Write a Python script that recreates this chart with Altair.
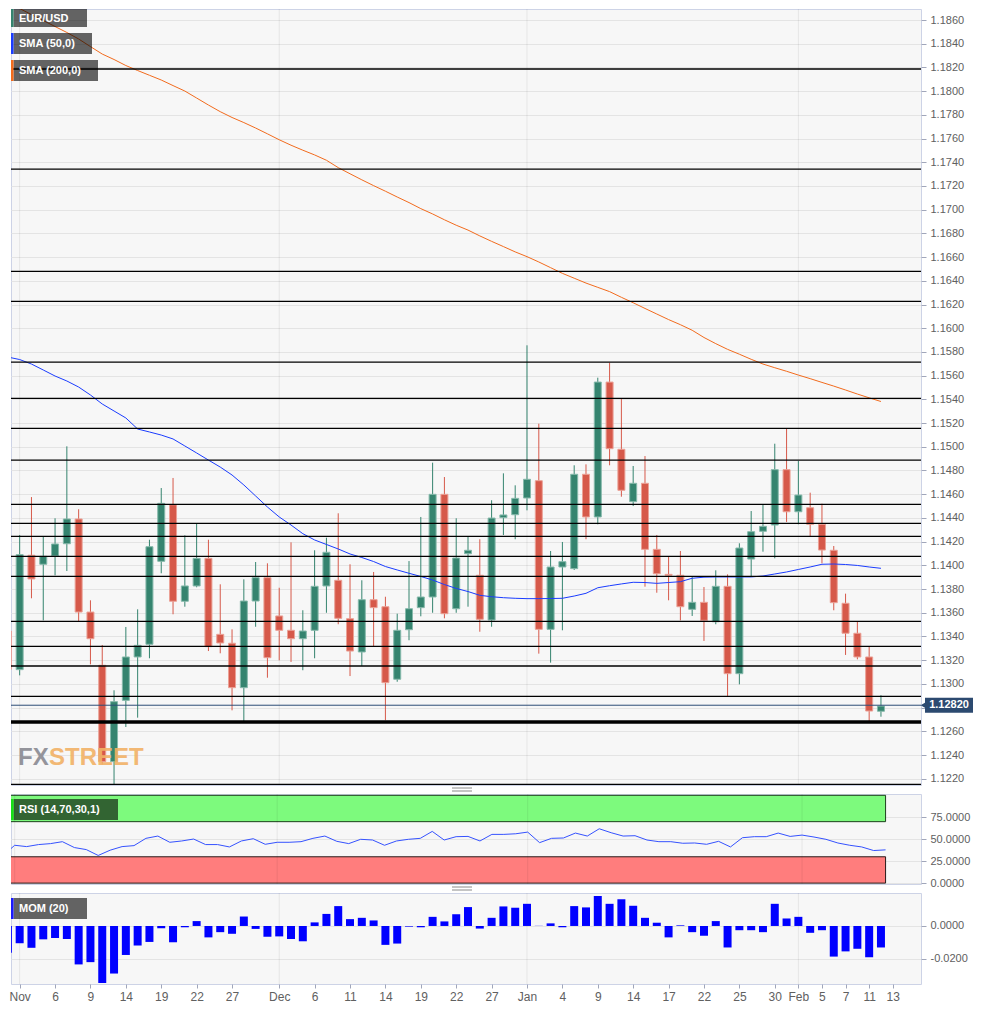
import altair as alt
import pandas as pd

# ---------------- data ----------------
bar_index = list(range(-1, 74))  # trading-day index, 0 = 1 Nov

open_ = [1.13446, 1.13120, 1.14085, 1.14009, 1.14079, 1.14182, 1.14391, 1.13606, 1.13157, 1.12344,
         1.12861, 1.13227, 1.13334, 1.14034, 1.14511, 1.13697, 1.13826, 1.14059, 1.13418, 1.13343,
         1.12968, 1.13699, 1.13896, 1.13573, 1.13452, 1.13381, 1.13452, 1.13826, 1.13874, 1.13550,
         1.13269, 1.13710, 1.13651, 1.13039, 1.13457, 1.13643, 1.13733, 1.14599, 1.13634, 1.14098,
         1.13916, 1.13539, 1.14402, 1.14427, 1.14568, 1.14714, 1.13460, 1.13986, 1.13972, 1.14768,
         1.14408, 1.15546, 1.14979, 1.14537, 1.14692, 1.14135, 1.13924, 1.13916, 1.13629, 1.13688,
         1.13524, 1.13823, 1.13086, 1.14053, 1.14287, 1.14340, 1.14807, 1.14452, 1.14486, 1.14346,
         1.14127, 1.13680, 1.13427, 1.13227, 1.12769]
high = [1.13632, 1.14256, 1.14576, 1.14242, 1.14397, 1.15004, 1.14473, 1.13705, 1.13328, 1.12946,
        1.13480, 1.13629, 1.14216, 1.14652, 1.14737, 1.14253, 1.14349, 1.14216, 1.13840, 1.13460,
        1.13882, 1.14028, 1.14017, 1.13811, 1.14194, 1.13621, 1.14127, 1.14233, 1.14439, 1.14009,
        1.13874, 1.13944, 1.13735, 1.13592, 1.14036, 1.14408, 1.14866, 1.14745, 1.14397, 1.14242,
        1.14220, 1.14549, 1.14776, 1.14675, 1.15856, 1.15195, 1.14121, 1.14197, 1.14844, 1.14852,
        1.15583, 1.15709, 1.15406, 1.14838, 1.14922, 1.14256, 1.14070, 1.14121, 1.13910, 1.13817,
        1.13958, 1.13924, 1.14186, 1.14458, 1.14515, 1.15026, 1.15152, 1.14880, 1.14613, 1.14520,
        1.14163, 1.13761, 1.13522, 1.13314, 1.12904]
low = [1.13024, 1.13072, 1.13722, 1.13536, 1.13916, 1.13952, 1.13522, 1.13165, 1.12320, 1.12153,
       1.12636, 1.12715, 1.13216, 1.13933, 1.13587, 1.13651, 1.13815, 1.13277, 1.13258, 1.12777,
       1.12687, 1.13482, 1.13052, 1.13199, 1.13185, 1.13115, 1.13216, 1.13600, 1.13503, 1.13066,
       1.13151, 1.13311, 1.12693, 1.13018, 1.13368, 1.13570, 1.13600, 1.13553, 1.13600, 1.13651,
       1.13440, 1.13482, 1.14256, 1.14220, 1.14464, 1.13255, 1.13179, 1.13452, 1.13961, 1.14220,
       1.14346, 1.14844, 1.14579, 1.14500, 1.13820, 1.13769, 1.13705, 1.13536, 1.13573, 1.13362,
       1.13503, 1.12898, 1.12996, 1.13910, 1.14115, 1.14059, 1.14366, 1.14346, 1.14247, 1.14017,
       1.13621, 1.13244, 1.13207, 1.12687, 1.12723]
close = [1.13123, 1.14090, 1.13885, 1.14076, 1.14180, 1.14391, 1.13606, 1.13381, 1.12344, 1.12850,
         1.13227, 1.13325, 1.14157, 1.14523, 1.13697, 1.13826, 1.14059, 1.13314, 1.13345, 1.12968,
         1.13699, 1.13896, 1.13221, 1.13452, 1.13381, 1.13446, 1.13823, 1.14110, 1.13553, 1.13277,
         1.13710, 1.13643, 1.13010, 1.13452, 1.13634, 1.13733, 1.14599, 1.13592, 1.14062, 1.14127,
         1.13545, 1.14399, 1.14425, 1.14565, 1.14726, 1.13460, 1.13986, 1.14031, 1.14768, 1.14408,
         1.15546, 1.14984, 1.14633, 1.14692, 1.14135, 1.13929, 1.13916, 1.13651, 1.13688, 1.13536,
         1.13823, 1.13086, 1.14146, 1.14284, 1.14329, 1.14807, 1.14452, 1.14593, 1.14346, 1.14129,
         1.13685, 1.13427, 1.13227, 1.12771, 1.12813]
sma50 = [1.15757, 1.15736, 1.15698, 1.15648, 1.15597, 1.15555, 1.15504, 1.15437, 1.15361, 1.15302,
         1.15243, 1.15150, 1.15125, 1.15099, 1.15066, 1.15007, 1.14948, 1.14888, 1.14829, 1.14762,
         1.14678, 1.14585, 1.14492, 1.14408, 1.14340, 1.14267, 1.14214, 1.14176, 1.14138, 1.14096,
         1.14066, 1.14032, 1.13990, 1.13961, 1.13933, 1.13906, 1.13876, 1.13838, 1.13805, 1.13779,
         1.13747, 1.13735, 1.13727, 1.13722, 1.13719, 1.13719, 1.13720, 1.13722, 1.13741, 1.13764,
         1.13811, 1.13828, 1.13843, 1.13857, 1.13855, 1.13848, 1.13855, 1.13862, 1.13891, 1.13900,
         1.13902, 1.13902, 1.13902, 1.13902, 1.13910, 1.13927, 1.13944, 1.13965, 1.13986, 1.14009,
         1.14011, 1.14007, 1.13999, 1.13986, 1.13975]
sma200 = [1.18747, 1.18697, 1.18646, 1.18596, 1.18545, 1.18495, 1.18440, 1.18376, 1.18313, 1.18267,
          1.18216, 1.18174, 1.18134, 1.18094, 1.18047, 1.18001, 1.17942, 1.17883, 1.17827, 1.17778,
          1.17735, 1.17689, 1.17640, 1.17590, 1.17544, 1.17502, 1.17462, 1.17417, 1.17355, 1.17303,
          1.17252, 1.17203, 1.17156, 1.17107, 1.17060, 1.17009, 1.16964, 1.16915, 1.16869, 1.16828,
          1.16779, 1.16733, 1.16689, 1.16644, 1.16604, 1.16559, 1.16511, 1.16463, 1.16422, 1.16381,
          1.16345, 1.16309, 1.16261, 1.16215, 1.16167, 1.16120, 1.16073, 1.16030, 1.15983, 1.15922,
          1.15870, 1.15822, 1.15781, 1.15738, 1.15698, 1.15667, 1.15637, 1.15605, 1.15575, 1.15543,
          1.15512, 1.15479, 1.15445, 1.15413, 1.15382]
rsi = [31.1, 43.1, 41.6, 43.9, 45.0, 47.2, 40.5, 38.2, 31.5, 37.5,
       41.6, 42.7, 51.0, 53.6, 46.5, 48.0, 50.2, 43.9, 43.9, 41.2,
       48.0, 50.6, 44.2, 46.5, 46.5, 47.2, 51.0, 53.6, 47.6, 45.0,
       49.9, 49.1, 43.1, 48.0, 49.9, 51.0, 58.9, 49.1, 52.9, 53.2,
       48.0, 55.5, 55.5, 56.2, 58.1, 46.1, 51.0, 51.4, 57.0, 53.6,
       61.9, 57.4, 53.6, 54.0, 49.1, 47.2, 47.2, 45.4, 45.7, 44.2,
       47.6, 41.2, 51.7, 52.9, 52.9, 57.0, 53.2, 54.7, 52.5, 49.9,
       45.7, 43.1, 41.2, 37.1, 37.9]
mom = [-0.0164, -0.0106, -0.0134, -0.0082, -0.0074, -0.0080, -0.0236, -0.0222, -0.0350, -0.0292,
       -0.0178, -0.0120, -0.0098, -0.0014, -0.0100, -0.0008, 0.0030, -0.0070, -0.0038, -0.0048,
       0.0058, -0.0018, -0.0066, -0.0064, -0.0080, -0.0094, 0.0022, 0.0074, 0.0122, 0.0042,
       0.0050, 0.0034, -0.0116, -0.0108, -0.0004, -0.0008, 0.0056, 0.0028, 0.0072, 0.0116,
       -0.0016, 0.0050, 0.0120, 0.0112, 0.0136, 0.0001, 0.0016, -0.0008, 0.0122, 0.0114,
       0.0184, 0.0136, 0.0164, 0.0124, 0.0050, 0.0020, -0.0070, 0.0004, -0.0038, -0.0060,
       0.0030, -0.0132, -0.0026, -0.0026, -0.0038, 0.0136, 0.0046, 0.0056, -0.0042, -0.0026,
       -0.0188, -0.0156, -0.0140, -0.0192, -0.0132]

levels = [1.18187, 1.17343, 1.16480, 1.16227, 1.15715, 1.15409, 1.15156, 1.14888, 1.14515,
          1.14354, 1.14245, 1.14076, 1.13907, 1.13528, 1.13317, 1.13151, 1.12895, 1.12153]
support_level = 1.12678
last_price = 1.12820

rsi_overbought = 70
rsi_oversold = 30
rsi_max = 100
rsi_min = 0

x_tick_idx = [0, 3, 6, 9, 12, 15, 18, 22, 25, 28, 31, 34, 37, 40, 43, 46, 49, 52, 55, 58,
              61, 64, 66, 68, 70, 72, 74]
x_tick_lbl = ["Nov", "6", "9", "14", "19", "22", "27", "Dec", "6", "11", "14", "19", "22",
              "27", "Jan", "4", "9", "14", "17", "22", "25", "30", "Feb", "5", "7", "11", "13"]
y_ticks = [1.1220, 1.1240, 1.1260, 1.1280, 1.1300, 1.1320, 1.1340, 1.1360, 1.1380, 1.1400,
           1.1420, 1.1440, 1.1460, 1.1480, 1.1500, 1.1520, 1.1540, 1.1560, 1.1580, 1.1600,
           1.1620, 1.1640, 1.1660, 1.1680, 1.1700, 1.1720, 1.1740, 1.1760, 1.1780, 1.1800,
           1.1820, 1.1840, 1.1860]
rsi_ticks = [0, 25, 50, 75]
mom_ticks = [-0.02, 0.0]

# ---------------- tables ----------------
df = pd.DataFrame({"idx": bar_index, "open": open_, "high": high, "low": low, "close": close,
                   "sma50": sma50, "sma200": sma200, "rsi": rsi, "mom": mom})
levels_df = pd.DataFrame({"level": levels})
month_df = pd.DataFrame({"m": [i for i, l in zip(x_tick_idx, x_tick_lbl) if not l.isdigit()]})
one = pd.DataFrame({"k": [0]})

# ---------------- styles ----------------
W, H_MAIN, H_RSI, H_MOM = 910, 776, 90, 91
GREEN, RED = "#35846f", "#d6594a"
GREEN_EDGE, RED_EDGE = "#86b9ab", "#eba196"

xs = alt.Scale(domain=[-0.31, 75.97], nice=False, zero=False)
ys_main = alt.Scale(domain=[1.12147, 1.18693], nice=False, zero=False)
ys_rsi = alt.Scale(domain=[-1, 101.5], nice=False, zero=False)
ys_mom = alt.Scale(domain=[-0.03562, 0.02024], nice=False, zero=False)
UP = "datum.close >= datum.open"

# the tick hidden behind the last-price tag gets no label
main_axis = alt.Axis(orient="right", values=y_ticks, title=None, grid=True,
                     labelExpr=f"abs(datum.value - {last_price}) < 0.0005 ? '' : format(datum.value, '.4f')",
                     tickSize=5, labelPadding=4, labelFontSize=11)
rsi_axis = alt.Axis(orient="right", values=rsi_ticks, format=".4f", title=None, grid=True,
                    tickSize=5, labelPadding=4, labelFontSize=11)
mom_axis = alt.Axis(orient="right", values=mom_ticks,
                    labelExpr="replace(format(datum.value, '.4f'), '\u2212', '-')",
                    title=None, grid=True, tickSize=5, labelPadding=4, labelFontSize=11)
expr = "".join(f"datum.value == {i} ? '{l}' : " for i, l in zip(x_tick_idx, x_tick_lbl)) + "''"
x_axis = alt.Axis(values=x_tick_idx, labelExpr=expr, title=None, grid=False, tickSize=4,
                  labelFontSize=12, labelOverlap=False, labelFlush=False, labelPadding=3)

X_NONE = alt.X("idx:Q", scale=xs, axis=None)


def YM(field):
    return alt.Y(field, scale=ys_main, axis=main_axis)


def month_rules(axis):
    return alt.Chart(month_df).mark_rule(color="black", opacity=0.07, strokeWidth=1).encode(
        x=alt.X("m:Q", scale=xs, axis=axis))


def badge(text, strip_color, y0, h, x1):
    d = pd.DataFrame({"t": [text]})
    base = alt.Chart(d)
    box = base.mark_rect(color="black", opacity=0.6).encode(
        x=alt.value(2.5), x2=alt.value(x1), y=alt.value(y0), y2=alt.value(y0 + h))
    strip = base.mark_rect(color=strip_color).encode(
        x=alt.value(0), x2=alt.value(2.5), y=alt.value(y0), y2=alt.value(y0 + h))
    txt = base.mark_text(align="left", baseline="middle", color="white", fontWeight="bold",
                         fontSize=11).encode(x=alt.value(8), y=alt.value(y0 + h / 2 + 0.5), text="t:N")
    return [box, strip, txt]


def handle():
    return [alt.Chart(one).mark_rule(color="#8a8a8a", strokeWidth=1).encode(
        x=alt.value(441), x2=alt.value(461), y=alt.value(yy)) for yy in (-6, -3)]


# ---------------- main price panel ----------------
wicks = alt.Chart(df).mark_rule(strokeWidth=1, clip=True).encode(
    x=X_NONE, y=YM("low:Q"), y2="high:Q",
    color=alt.condition(UP, alt.value(GREEN), alt.value(RED)))
bodies = alt.Chart(df).mark_bar(size=7, strokeWidth=1, clip=True, orient="vertical").encode(
    x=X_NONE, y=YM("open:Q"), y2="close:Q",
    color=alt.condition(UP, alt.value(GREEN), alt.value(RED)),
    stroke=alt.condition(UP, alt.value(GREEN_EDGE), alt.value(RED_EDGE)))
sma200_line = alt.Chart(df).mark_line(color="#f26b1d", strokeWidth=1, clip=True).encode(
    x=X_NONE, y=YM("sma200:Q"))
sma50_line = alt.Chart(df).mark_line(color="#1a3cff", strokeWidth=1, clip=True).encode(
    x=X_NONE, y=YM("sma50:Q"))
level_rules = alt.Chart(levels_df).mark_rule(color="black", strokeWidth=1.3).encode(
    y=YM("level:Q"))
support_rule = alt.Chart(pd.DataFrame({"level": [support_level]})).mark_rule(
    color="black", strokeWidth=3.5).encode(y=YM("level:Q"))
price_df = pd.DataFrame({"level": [last_price], "t": [f"{last_price:.5f}"]})
price_rule = alt.Chart(price_df).mark_rule(color="#2d4d77", strokeWidth=1).encode(
    y=YM("level:Q"))
price_box = alt.Chart(price_df).mark_tick(orient="horizontal", size=48, thickness=15,
                                          color="#2c4a70", opacity=1).encode(
    x=alt.value(938), y=YM("level:Q"))
price_ptr = alt.Chart(price_df).mark_point(shape="triangle-left", size=30, filled=True,
                                           color="#2c4a70", opacity=1).encode(
    x=alt.value(912), y=YM("level:Q"))
price_txt = alt.Chart(price_df).mark_text(color="white", fontWeight="bold", fontSize=11,
                                          align="center", baseline="middle").encode(
    x=alt.value(938), y=YM("level:Q"), text="t:N")

wm_fx = alt.Chart(one).mark_text(text="FX", font="Liberation Sans", fontWeight="bold",
                                 fontSize=24, color="#8a8a92", opacity=0.9, align="left",
                                 baseline="alphabetic").encode(x=alt.value(7), y=alt.value(756))
wm_st = alt.Chart(one).mark_text(text="STREET", font="Liberation Sans", fontWeight="bold",
                                 fontSize=24, color="#f2b266", opacity=0.9, align="left",
                                 baseline="alphabetic").encode(x=alt.value(38), y=alt.value(756))

main = alt.layer(
    month_rules(None), wicks, bodies, sma200_line, sma50_line, level_rules, support_rule,
    price_rule, wm_fx, wm_st,
    *badge("EUR/USD", GREEN, 0, 18, 76),
    *badge("SMA (50,0)", "#1a3cff", 24, 21, 81),
    *badge("SMA (200,0)", "#f26b1d", 51, 21, 87),
    price_ptr, price_box, price_txt,
).properties(width=W, height=H_MAIN)

# ---------------- RSI panel ----------------
band_df = pd.DataFrame({"x0": [bar_index[0], bar_index[0]], "x1": [bar_index[-1], bar_index[-1]],
                        "lo": [rsi_overbought, rsi_min], "hi": [rsi_max, rsi_oversold],
                        "zone": ["over", "under"]})
bands = alt.Chart(band_df).mark_rect(strokeWidth=1, clip=True).encode(
    x=alt.X("x0:Q", scale=xs, axis=None), x2="x1:Q",
    y=alt.Y("lo:Q", scale=ys_rsi, axis=rsi_axis), y2="hi:Q",
    color=alt.Color("zone:N", scale=alt.Scale(domain=["over", "under"],
                                               range=["#7dfa7d", "#ff7d7d"]), legend=None),
    stroke=alt.Color("zone:N", scale=alt.Scale(domain=["over", "under"],
                                                range=["#1d401d", "#2a1a1a"]), legend=None))
rsi_line = alt.Chart(df).mark_line(color="#3552ff", strokeWidth=1, clip=True).encode(
    x=X_NONE, y=alt.Y("rsi:Q", scale=ys_rsi, axis=rsi_axis))
rsi_panel = alt.layer(
    bands, month_rules(None), rsi_line,
    *badge("RSI (14,70,30,1)", "#14e014", 5, 21, 107),
    *handle(),
).properties(width=W, height=H_RSI)

# ---------------- MOM panel ----------------
mom_bars = alt.Chart(df).mark_bar(size=8, color="#0000ff", clip=True, orient="vertical").encode(
    x=alt.X("idx:Q", scale=xs, axis=x_axis),
    y=alt.Y("mom:Q", scale=ys_mom, axis=mom_axis), y2=alt.datum(0))
mom_panel = alt.layer(
    month_rules(x_axis), mom_bars,
    *badge("MOM (20)", "#1a1aff", 5, 21, 76),
    *handle(),
).properties(width=W, height=H_MOM)

chart = alt.vconcat(main, rsi_panel, mom_panel, spacing=9, bounds="flush", padding=0).configure(
    font="Liberation Sans"
).configure_view(
    fill="#f7f7f7", stroke="#cdd3e6", strokeWidth=1
).configure_axis(
    labelColor="#606060", labelFont="Liberation Sans", tickColor="#a0a6ba",
    gridColor="#e4e4e4", domain=False
)

chart.save("out.html", embed_options={"renderer": "svg", "actions": False})
